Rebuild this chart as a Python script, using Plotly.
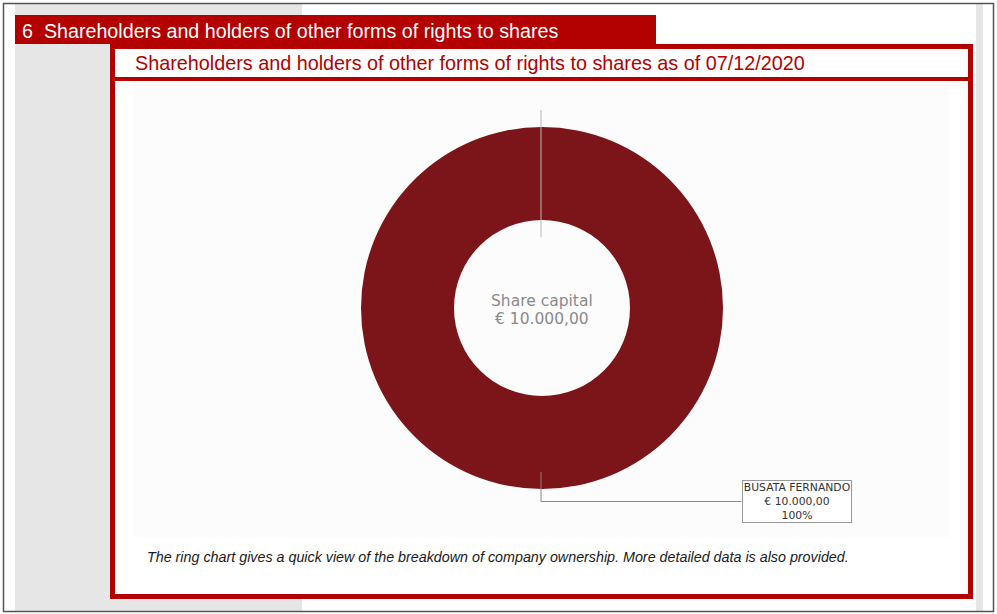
import plotly.graph_objects as go

# ---- data ----
shareholders = ["BUSATA FERNANDO"]
share_values = [10000.00]
share_capital = 10000.00
section_title = "6  Shareholders and holders of other forms of rights to shares"
box_title = "Shareholders and holders of other forms of rights to shares as of 07/12/2020"
footnote = ("The ring chart gives a quick view of the breakdown of company ownership. "
            "More detailed data is also provided.")
ring_colors = ["#7c1519"]


def eur(v):
    s = f"{v:,.2f}"
    s = s.replace(",", "X").replace(".", ",").replace("X", ".")
    return "€ " + s


W, H = 997, 614
RED = "#b30000"

# ring geometry (pixels)
cx, cy, r_out, r_in = 542, 308, 181, 88

fig = go.Figure()

fig.add_trace(go.Pie(
    labels=shareholders,
    values=share_values,
    hole=r_in / r_out,
    sort=False,
    direction="clockwise",
    marker=dict(colors=ring_colors, line=dict(width=0)),
    textinfo="none",
    hoverinfo="skip",
    showlegend=False,
    domain=dict(x=[(cx - r_out) / W, (cx + r_out) / W],
                y=[(H - cy - r_out) / H, (H - cy + r_out) / H]),
))

shapes = []
# gray page side areas
shapes.append(dict(type="rect", x0=15, x1=302, y0=4, y1=611, fillcolor="#e6e6e6", line=dict(width=0), layer="below"))
shapes.append(dict(type="rect", x0=976, x1=983, y0=4, y1=611, fillcolor="#e6e6e6", line=dict(width=0), layer="below"))
# red section header
shapes.append(dict(type="rect", x0=15, x1=656, y0=15, y1=44, fillcolor=RED, line=dict(width=0), layer="below"))
# white inner box
shapes.append(dict(type="rect", x0=110, x1=973, y0=44, y1=599, fillcolor="white", line=dict(width=0), layer="below"))
# chart area
shapes.append(dict(type="rect", x0=133, x1=950, y0=84, y1=537, fillcolor="#fcfcfc", line=dict(width=0), layer="below"))
# inner box red border
shapes.append(dict(type="rect", x0=112.5, x1=970.5, y0=46.5, y1=596.5, fillcolor="rgba(0,0,0,0)",
                   line=dict(color=RED, width=5), layer="above"))
# title separator
shapes.append(dict(type="line", x0=110, x1=973, y0=79, y1=79, line=dict(color=RED, width=4), layer="above"))
# page frame
shapes.append(dict(type="rect", x0=3.5, x1=993.5, y0=3.5, y1=611.5, fillcolor="rgba(0,0,0,0)",
                   line=dict(color="#555555", width=1.5), layer="above"))
# leader lines
shapes.append(dict(type="line", x0=cx - 1, x1=cx - 1, y0=cy - r_out - 17, y1=cy - r_in + 17,
                   line=dict(color="#b8b8b8", width=1), layer="above"))
shapes.append(dict(type="path", path=f"M {cx-1} {cy + r_out - 17} L {cx-1} 501.5 L 741 501.5",
                   line=dict(color="#888888", width=1), layer="above"))

annotations = []
annotations.append(dict(x=20, y=31, xref="x", yref="y", xanchor="left", yanchor="middle",
                        text=section_title, showarrow=False,
                        font=dict(family="Liberation Sans, Arial", size=19.7, color="white")))
annotations.append(dict(x=133, y=63, xref="x", yref="y", xanchor="left", yanchor="middle",
                        text=box_title, showarrow=False,
                        font=dict(family="Liberation Sans, Arial", size=19.8, color=RED)))
annotations.append(dict(x=cx, y=cy - 7, xref="x", yref="y", xanchor="center", yanchor="middle",
                        text="Share capital", showarrow=False,
                        font=dict(family="DejaVu Sans", size=15.5, color="#8a8a8a")))
annotations.append(dict(x=cx, y=cy + 11, xref="x", yref="y", xanchor="center", yanchor="middle",
                        text=eur(share_capital), showarrow=False,
                        font=dict(family="DejaVu Sans", size=15.5, color="#8a8a8a")))
total = sum(share_values)
for name, v in zip(shareholders, share_values):
    pct = f"{v / total * 100:.0f}%"
    annotations.append(dict(x=797, y=501, xref="x", yref="y", xanchor="center", yanchor="middle",
                            text=f"{name}<br>{eur(v)}<br>{pct}", showarrow=False,
                            bgcolor="white", bordercolor="#999999", borderwidth=1, borderpad=0,
                            width=108,
                            font=dict(family="DejaVu Sans", size=10.8, color="#333333")))
annotations.append(dict(x=145, y=557, xref="x", yref="y", xanchor="left", yanchor="middle",
                        text=f"<i>{footnote}</i>", showarrow=False,
                        font=dict(family="Liberation Sans, Arial", size=14.3, color="#1a1a1a")))

fig.update_layout(
    width=W, height=H,
    margin=dict(l=0, r=0, t=0, b=0),
    paper_bgcolor="white", plot_bgcolor="rgba(0,0,0,0)",
    xaxis=dict(range=[0, W], visible=False, fixedrange=True),
    yaxis=dict(range=[H, 0], visible=False, fixedrange=True),
    shapes=shapes, annotations=annotations,
    showlegend=False,
)

fig.write_html("out.html")
